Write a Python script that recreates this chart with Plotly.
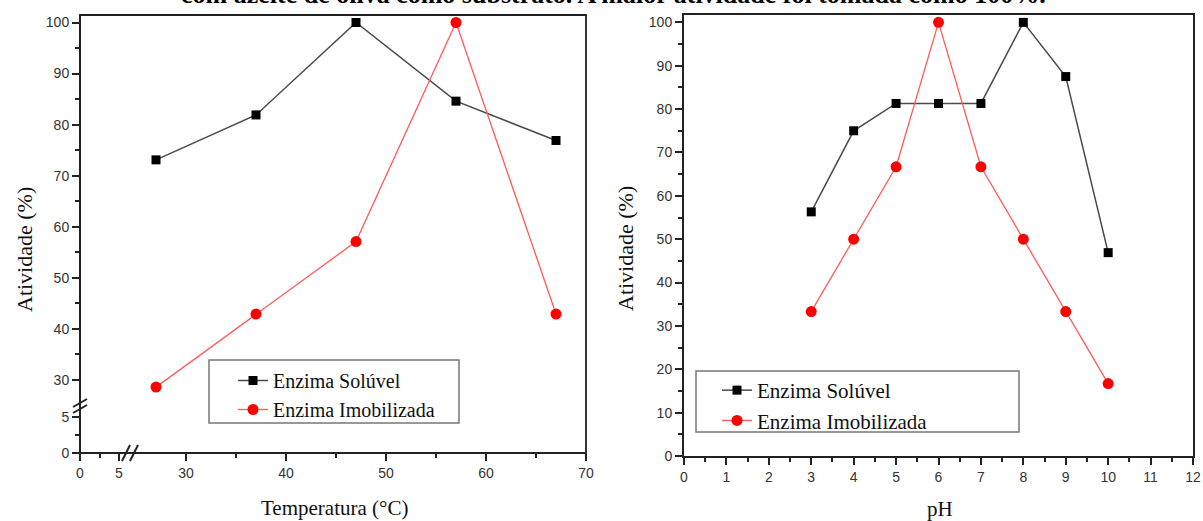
import plotly.graph_objects as go

W, H = 1203, 521

# ---------------- data ----------------
temp_c = [27, 37, 47, 57, 67]
temp_soluvel = [73.1, 81.9, 100.0, 84.6, 76.9]
temp_imobilizada = [28.6, 42.9, 57.1, 100.0, 42.9]

ph_vals = [3, 4, 5, 6, 7, 8, 9, 10]
ph_soluvel = [56.3, 75.0, 81.3, 81.3, 81.3, 100.0, 87.5, 46.9]
ph_imobilizada = [33.3, 50.0, 66.7, 100.0, 66.7, 50.0, 33.3, 16.7]

series_names = ["Enzima Solúvel", "Enzima Imobilizada"]

temp_ticks_upper = [30, 40, 50, 60, 70]
temp_minor_upper = [35, 45, 55, 65]
temp_ticks_lower = [0, 5]
temp_minor_lower = [2.5]
act_ticks_upper = [30, 40, 50, 60, 70, 80, 90, 100]
act_minor_upper = [35, 45, 55, 65, 75, 85, 95]
act_ticks_lower = [0, 5]
act_minor_lower = [2.5]
ph_ticks = list(range(0, 13))
ph_minor = [i + 0.5 for i in range(0, 12)]
act_ticks_ph = list(range(0, 101, 10))
act_minor_ph = list(range(5, 100, 10))

title_text = "com azeite de oliva como substrato. A maior atividade foi tomada como 100%."


def px(x):
    return x / W


def py(y):
    return 1 - y / H


TICKFONT = dict(family="Liberation Sans, Arial, sans-serif", size=14, color="#333333")
SERIF = "Liberation Serif, Times New Roman, serif"
AX = "#222222"

BLACK_LINE = dict(color="#4a4a4a", width=1.5)
BLACK_MARK = dict(symbol="square", size=9, color="#000000")
RED_LINE = dict(color="#ff5a5a", width=1.3)
RED_MARK = dict(symbol="circle", size=11, color="#ff0000")

fig = go.Figure()

# left panel traces
fig.add_trace(go.Scatter(x=temp_c, y=temp_soluvel, mode="lines+markers", name=series_names[0],
                         line=BLACK_LINE, marker=BLACK_MARK, xaxis="x", yaxis="y",
                         legend="legend", cliponaxis=False))
fig.add_trace(go.Scatter(x=temp_c, y=temp_imobilizada, mode="lines+markers", name=series_names[1],
                         line=RED_LINE, marker=RED_MARK, xaxis="x", yaxis="y",
                         legend="legend", cliponaxis=False))
# dummy trace so the broken-axis lower segments are drawn
fig.add_trace(go.Scatter(x=[None], y=[None], xaxis="x3", yaxis="y3", showlegend=False,
                         hoverinfo="skip"))

# right panel traces
fig.add_trace(go.Scatter(x=ph_vals, y=ph_soluvel, mode="lines+markers", name=series_names[0],
                         line=BLACK_LINE, marker=BLACK_MARK, xaxis="x2", yaxis="y2",
                         legend="legend2", cliponaxis=False))
fig.add_trace(go.Scatter(x=ph_vals, y=ph_imobilizada, mode="lines+markers", name=series_names[1],
                         line=RED_LINE, marker=RED_MARK, xaxis="x2", yaxis="y2",
                         legend="legend2", cliponaxis=False))

common = dict(showgrid=False, zeroline=False, showline=True, linecolor=AX, linewidth=2,
              ticks="outside", ticklen=7, tickwidth=1.5, tickcolor=AX, tickfont=TICKFONT,
              automargin=False)


def minor(vals):
    return dict(tickmode="array", tickvals=vals, ticks="outside", ticklen=4,
                tickwidth=1.5, tickcolor=AX, showgrid=False)


LEFT_X0, LEFT_X1, BREAK_X = 80, 586, 130
TOP_Y, LEFT_Y_BOTTOM, BREAK_Y = 15, 453, 406

fig.update_layout(
    width=W, height=H, margin=dict(l=0, r=0, t=0, b=0, autoexpand=False),
    paper_bgcolor="white", plot_bgcolor="rgba(0,0,0,0)",
    xaxis=dict(domain=[px(BREAK_X), px(LEFT_X1)], range=[24.4, 70], anchor="free",
               position=py(LEFT_Y_BOTTOM), tickmode="array", tickvals=temp_ticks_upper,
               minor=minor(temp_minor_upper), **common),
    yaxis=dict(domain=[py(BREAK_Y), py(TOP_Y)], range=[24.9, 101.47], anchor="free",
               position=px(LEFT_X0), tickmode="array", tickvals=act_ticks_upper,
               minor=minor(act_minor_upper), **common),
    xaxis3=dict(domain=[px(LEFT_X0), px(BREAK_X)], range=[0, 6.41], anchor="free",
                position=py(LEFT_Y_BOTTOM), tickmode="array", tickvals=temp_ticks_lower,
                minor=minor(temp_minor_lower), **common),
    yaxis3=dict(domain=[py(LEFT_Y_BOTTOM), py(BREAK_Y)], range=[0, 6.53], anchor="free",
                position=px(LEFT_X0), tickmode="array", tickvals=act_ticks_lower,
                minor=minor(act_minor_lower), **common),
    xaxis2=dict(domain=[px(684), px(1193)], range=[0, 12], anchor="y2", mirror=True,
                tickmode="array", tickvals=ph_ticks, minor=minor(ph_minor), **common),
    yaxis2=dict(domain=[py(456), py(TOP_Y)], range=[0, 101.7], anchor="x2", mirror=True,
                tickmode="array", tickvals=act_ticks_ph, minor=minor(act_minor_ph), **common),
    legend=dict(x=px(233), y=py(361), xanchor="left", yanchor="top",
                bgcolor="rgba(0,0,0,0)", borderwidth=0,
                font=dict(family=SERIF, size=20, color="#111111")),
    legend2=dict(x=px(717), y=py(370), xanchor="left", yanchor="top",
                 bgcolor="rgba(0,0,0,0)", borderwidth=0,
                 font=dict(family=SERIF, size=21, color="#111111")),
    showlegend=True,
)

shapes = []
# left frame (top and right sides)
shapes.append(dict(type="rect", xref="paper", yref="paper", x0=px(LEFT_X0), x1=px(LEFT_X1),
                   y0=py(LEFT_Y_BOTTOM), y1=py(TOP_Y), line=dict(color=AX, width=1.8), layer="below"))
# legend boxes
shapes.append(dict(type="rect", xref="paper", yref="paper", x0=px(209), x1=px(459),
                   y0=py(423), y1=py(360), line=dict(color="#777777", width=1.5),
                   fillcolor="white", layer="above"))
shapes.append(dict(type="rect", xref="paper", yref="paper", x0=px(696), x1=px(1019),
                   y0=py(432), y1=py(371), line=dict(color="#777777", width=1.5),
                   fillcolor="white", layer="above"))
# axis break marks "//"
for cy in (403, 409):
    shapes.append(dict(type="line", xref="paper", yref="paper",
                       x0=px(LEFT_X0 - 7), y0=py(cy + 4), x1=px(LEFT_X0 + 7), y1=py(cy - 4),
                       line=dict(color=AX, width=2)))
for cx in (126, 134):
    shapes.append(dict(type="line", xref="paper", yref="paper",
                       x0=px(cx - 4), y0=py(LEFT_Y_BOTTOM + 8), x1=px(cx + 4), y1=py(LEFT_Y_BOTTOM - 8),
                       line=dict(color=AX, width=2)))
fig.update_layout(shapes=shapes)

annotations = [
    dict(text="<b>" + title_text + "</b>", xref="paper", yref="paper", x=px(613), y=py(-5),
         showarrow=False, xanchor="center", yanchor="middle",
         font=dict(family=SERIF, size=26, color="#000000")),
    dict(text="Atividade (%)", xref="paper", yref="paper", x=px(24), y=py(250), showarrow=False,
         textangle=-90, xanchor="center", yanchor="middle",
         font=dict(family=SERIF, size=22, color="#111111")),
    dict(text="Atividade (%)", xref="paper", yref="paper", x=px(626), y=py(249), showarrow=False,
         textangle=-90, xanchor="center", yanchor="middle",
         font=dict(family=SERIF, size=22, color="#111111")),
    dict(text="Temperatura (°C)", xref="paper", yref="paper", x=px(334), y=py(508), showarrow=False,
         xanchor="center", yanchor="middle",
         font=dict(family=SERIF, size=21, color="#111111")),
    dict(text="pH", xref="paper", yref="paper", x=px(940), y=py(509), showarrow=False,
         xanchor="center", yanchor="middle",
         font=dict(family=SERIF, size=21, color="#111111")),
]
fig.update_layout(annotations=annotations)

fig.write_html("out.html", config={"displayModeBar": False},
               post_script="document.body.style.margin='0';")
